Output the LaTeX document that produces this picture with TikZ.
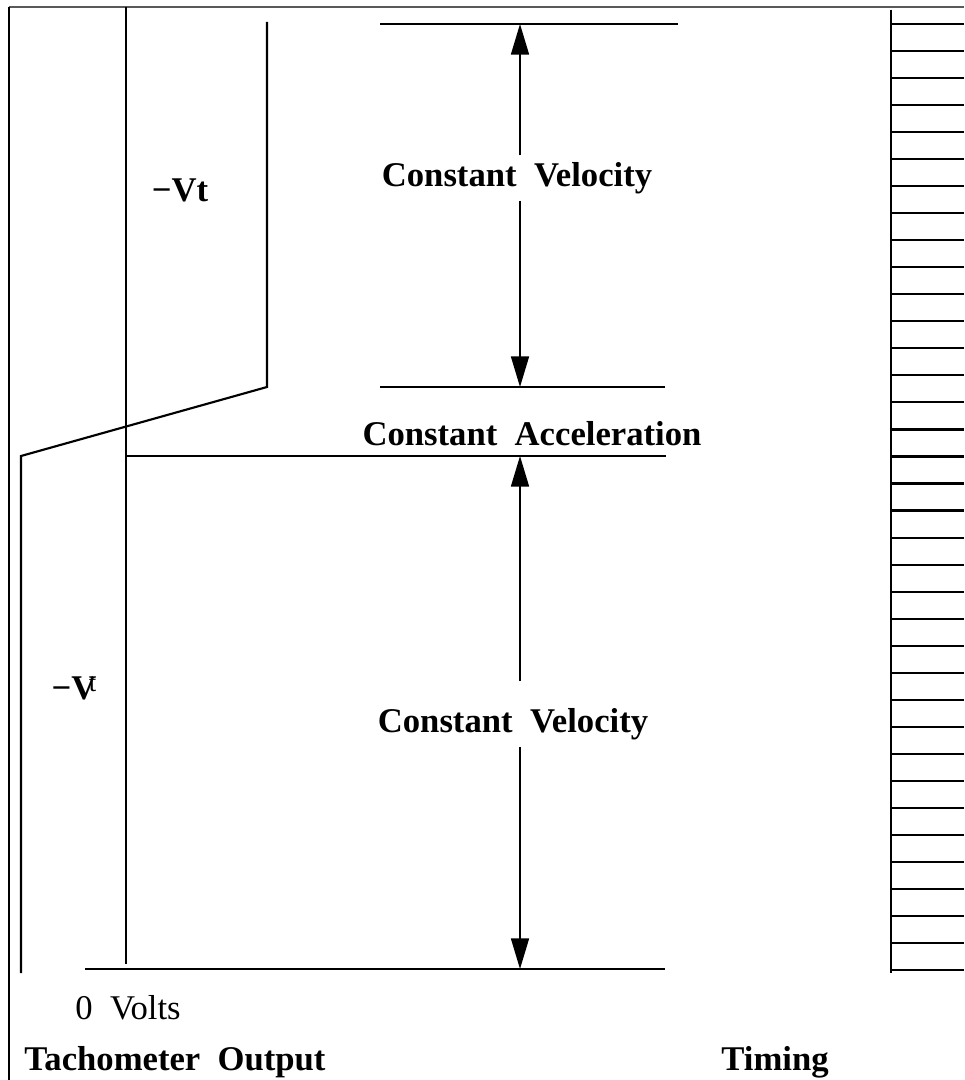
\documentclass[tikz,border=0pt]{standalone}
\usepackage{fontspec}
\setmainfont{Liberation Serif}
\usetikzlibrary{arrows.meta,positioning}
\tikzset{
  trace/.style={line width=1.6pt},
  frameline/.style={line width=1pt},
  dimarrow/.style={line width=1.3pt, -{Triangle[length=23pt,width=13.5pt]}},
  lbl/.style={font=\fontsize{26}{30}\selectfont\bfseries, inner sep=5pt},
  plainlbl/.style={font=\fontsize{26}{30}\selectfont, inner sep=2pt},
}

\begin{document}
\begin{tikzpicture}[x=0.75pt,y=-0.75pt]
\useasboundingbox (0,0) rectangle (964,1080);

% frame
\draw[line width=2pt, black!65] (9,7) -- (964,7);
\draw[frameline] (9,7) -- (9,1080);

% tachometer traces
\draw[trace] (126,7) -- (126,964);
\draw[trace] (21,973) -- (21,456) -- (267,387) -- (267,22);

% level lines
\coordinate (vtop) at (520,24);
\coordinate (vmid) at (520,387);
\coordinate (vlow) at (520,456);
\coordinate (vzero) at (520,969);
\draw[trace] (380,24) -- (678,24);
\draw[trace] (380,387) -- (665,387);
\draw[trace] (126,456) -- (666,456);
\draw[trace] (85,969) -- (665,969);

% labels
\node[lbl] (cvtop) at (517,178) {Constant\ \ Velocity};
\node[lbl] (cacc) at (532,434) {Constant\ \ Acceleration};
\node[lbl] (cvbot) at (513,724) {Constant\ \ Velocity};
\node[lbl] (vtone) at (180,190) {−Vt};
\node[lbl] (vttwo) at (74,688) {−V\hspace{-0.22em}\raisebox{0.22em}{\mdseries\fontsize{20}{20}\selectfont t}};
\node[plainlbl] (zero) at (128,1008) {0\ \ Volts};
\node[lbl] (tach) at (175,1062) {Tachometer\ \ Output};
\node[lbl] (timing) at (775,1062) {Timing};

% dimension arrows
\coordinate (cvbotn) at ([yshift=15pt]cvbot.north);
\draw[dimarrow] (cvtop.north -| vtop) -- (vtop);
\draw[dimarrow] (cvtop.south -| vmid) -- (vmid);
\draw[dimarrow] (cvbotn -| vlow) -- (vlow);
\draw[dimarrow] (cvbot.south -| vzero) -- (vzero);

% timing marks
\draw[trace] (891,10) -- (891,973);
\foreach \i in {0,...,35}
  \draw[trace] (891,24+27.03*\i) -- (964,24+27.03*\i);
\end{tikzpicture}
\end{document}
